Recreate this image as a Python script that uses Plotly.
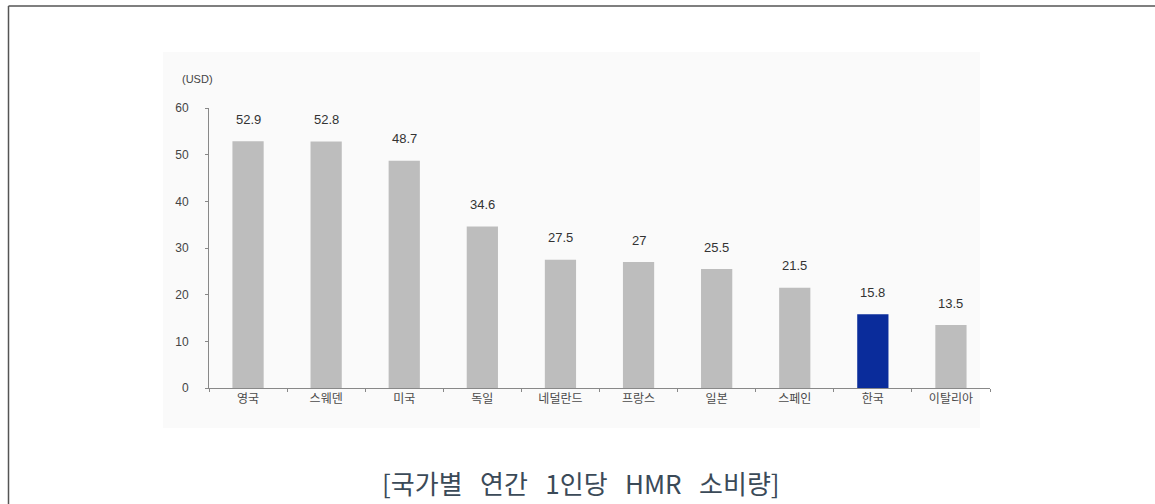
import plotly.graph_objects as go

countries = ["영국", "스웨덴", "미국", "독일", "네덜란드", "프랑스", "일본", "스페인", "한국", "이탈리아"]
values = [52.9, 52.8, 48.7, 34.6, 27.5, 27, 25.5, 21.5, 15.8, 13.5]
labels = ["52.9", "52.8", "48.7", "34.6", "27.5", "27", "25.5", "21.5", "15.8", "13.5"]
highlight = "한국"
y_ticks = [0, 10, 20, 30, 40, 50, 60]
caption_words = ["[국가별", "연간", "1인당", "HMR", "소비량]"]

GRAY = "#BDBDBD"
NAVY = "#0A2C9B"
colors = [NAVY if c == highlight else GRAY for c in countries]

W, H = 1155, 504
L, R, T, B = 209, 165, 108, 116
pw, ph = W - L - R, H - T - B


def px(x):
    return (x - L) / pw


def py(y):
    return (H - B - y) / ph


NARROW = "Liberation Sans Narrow, Arial Narrow, Liberation Sans, sans-serif"

fig = go.Figure()
fig.add_trace(go.Bar(
    x=countries, y=values, marker=dict(color=colors, line=dict(width=0)),
    width=0.4, hoverinfo="x+y", showlegend=False,
))

annotations = []
for c, v, t in zip(countries, values, labels):
    annotations.append(dict(
        x=c, y=v, xref="x", yref="y", text=t, showarrow=False,
        yanchor="middle", yshift=22,
        font=dict(family=NARROW, size=13, color="#333333"),
    ))
annotations.append(dict(
    x=px(197), y=py(79), xref="paper", yref="paper", text="(USD)", showarrow=False,
    xanchor="center", yanchor="middle",
    font=dict(family=NARROW, size=11, color="#444444"),
))
annotations.append(dict(
    x=px(581), y=py(482), xref="paper", yref="paper",
    text="\u00a0\u00a0\u00a0".join(caption_words), showarrow=False,
    xanchor="center", yanchor="middle",
    font=dict(family="Noto Sans CJK KR, sans-serif", size=26, color="#3B4A58"),
))

shapes = [
    dict(type="rect", xref="paper", yref="paper", x0=px(163), x1=px(980), y0=py(428), y1=py(52),
         fillcolor="#FAFAFA", line=dict(width=0), layer="below"),
    dict(type="line", xref="paper", yref="paper", x0=px(8.5), x1=px(1160), y0=py(6), y1=py(6),
         line=dict(color="#555555", width=1.5)),
    dict(type="line", xref="paper", yref="paper", x0=px(8.5), x1=px(8.5), y0=py(6), y1=py(510),
         line=dict(color="#555555", width=1.5)),
]

fig.update_layout(
    width=W, height=H,
    margin=dict(l=L, r=R, t=T, b=B, autoexpand=False),
    paper_bgcolor="white", plot_bgcolor="rgba(0,0,0,0)",
    bargap=0.6,
    annotations=annotations, shapes=shapes,
    xaxis=dict(
        type="category", showgrid=False, zeroline=False,
        showline=True, linecolor="#888888", linewidth=1,
        ticks="outside", ticklen=3, tickcolor="#888888", tickson="boundaries",
        tickfont=dict(family="Noto Sans CJK KR, sans-serif", size=12, color="#4A4A4A"),
    ),
    yaxis=dict(
        range=[0, 60], tickvals=y_ticks, showgrid=False, zeroline=False,
        showline=True, linecolor="#888888", linewidth=1,
        ticks="outside", ticklen=3, tickcolor="#888888",
        ticklabelstandoff=14,
        tickfont=dict(family=NARROW, size=12, color="#444444"),
    ),
)

fig.write_html(
    "out.html",
    config={"displayModeBar": False},
    post_script="document.body.style.margin='0';document.body.style.overflow='hidden';",
)
